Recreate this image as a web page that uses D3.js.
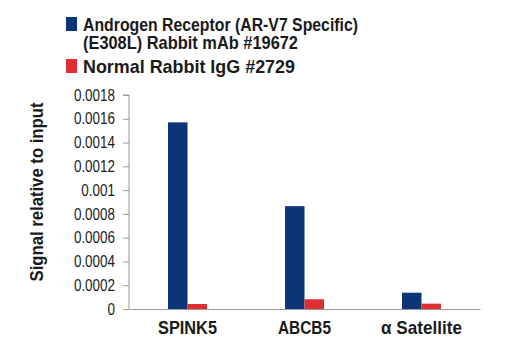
<!DOCTYPE html>
<html>
<head>
<meta charset="UTF-8">
<title>ChIP signal</title>
<script src="https://d3js.org/d3.v7.min.js"></script>
<style>
  body { margin: 0; background: #fff; }
  svg text { font-family: "Liberation Sans", Arial, sans-serif; }
</style>
</head>
<body>
<div id="chart"></div>
<script>
// data
const categories = ["SPINK5", "ABCB5", "\u03b1 Satellite"];
const seriesNames = ["Androgen Receptor (AR-V7 Specific)|(E308L) Rabbit mAb #19672", "Normal Rabbit IgG #2729"];
const arValues = [0.00157, 0.000865, 0.000137];
const iggValues = [0.000042, 0.000082, 0.000045];
const yTicks = [0, 0.0002, 0.0004, 0.0006, 0.0008, 0.001, 0.0012, 0.0014, 0.0016, 0.0018];
const colors = ["#0b3577", "#de2f33"];

const width = 520, height = 350;
const margin = { left: 129, right: 40, top: 95, bottom: 41 };

// squeeze text to look like a condensed face
function condense(sel, k) {
  sel.each(function () {
    const w = this.getComputedTextLength();
    d3.select(this).attr("textLength", w * k).attr("lengthAdjust", "spacingAndGlyphs");
  });
}
function fitTo(sel, w) {
  sel.attr("textLength", w).attr("lengthAdjust", "spacingAndGlyphs");
}

const svg = d3.select("#chart").append("svg")
  .attr("width", width)
  .attr("height", height);

const x = d3.scaleBand()
  .domain(categories)
  .range([margin.left, width - margin.right]);

const x1 = d3.scaleBand()
  .domain([0, 1])
  .range([0, 39]);

const y = d3.scaleLinear()
  .domain([0, 0.0018])
  .range([height - margin.bottom, margin.top]);

// bars
const groups = svg.append("g")
  .selectAll("g")
  .data(categories)
  .join("g")
  .attr("transform", d => `translate(${x(d) + x.bandwidth() / 2 - 19.5},0)`);

groups.selectAll("rect")
  .data((d, i) => [arValues[i], iggValues[i]])
  .join("rect")
  .attr("x", (d, j) => x1(j))
  .attr("width", x1.bandwidth())
  .attr("y", d => y(d))
  .attr("height", d => y(0) - y(d))
  .attr("fill", (d, j) => colors[j]);

// y axis
const yAxis = svg.append("g")
  .attr("transform", `translate(${margin.left},0)`)
  .call(d3.axisLeft(y).tickValues(yTicks).tickSize(6).tickPadding(8)
    .tickFormat(d => d === 0 ? "0" : String(+d.toFixed(4))));
yAxis.select(".domain").attr("stroke", "#999").attr("d", `M-6,${y(0.0018)}H0V${y(0)}`);
yAxis.selectAll(".tick line").attr("stroke", "#999");
yAxis.selectAll(".tick text")
  .attr("fill", "#1a1a1a")
  .attr("font-size", 16)
  .style("font-family", "'Liberation Sans', sans-serif")
  .call(condense, 0.84);

// x axis
const labelWidths = [59, 53, 81];
const xAxis = svg.append("g")
  .attr("transform", `translate(0,${y(0)})`)
  .call(d3.axisBottom(x).tickSize(0));
xAxis.select(".domain").attr("stroke", "#999");
xAxis.selectAll(".tick text")
  .attr("fill", "#1a1a1a")
  .attr("font-size", 19)
  .attr("font-weight", "bold")
  .attr("y", 25)
  .attr("dy", 0)
  .style("font-family", "'Liberation Sans', sans-serif")
  .attr("textLength", (d, i) => labelWidths[i])
  .attr("lengthAdjust", "spacingAndGlyphs");

// y title
svg.append("text")
  .attr("transform", `translate(43,192) rotate(-90)`)
  .attr("text-anchor", "middle")
  .attr("font-size", 19)
  .attr("font-weight", "bold")
  .attr("fill", "#1a1a1a")
  .text("Signal relative to input")
  .call(fitTo, 179);

// legend
const legendRows = [
  { color: colors[0], lines: seriesNames[0].split("|"), widths: [275, 215], y: 17 },
  { color: colors[1], lines: seriesNames[1].split("|"), widths: [212], y: 59 }
];
const legend = svg.append("g");
legendRows.forEach(r => {
  legend.append("rect")
    .attr("x", 66).attr("y", r.y)
    .attr("width", 11).attr("height", 14)
    .attr("fill", r.color);
  r.lines.forEach((t, i) => {
    legend.append("text")
      .attr("x", 83)
      .attr("y", r.y + 14 + i * 18)
      .attr("font-size", 18.5)
      .attr("font-weight", "bold")
      .attr("fill", "#1a1a1a")
      .text(t)
      .call(fitTo, r.widths[i]);
  });
});
</script>
</body>
</html>
